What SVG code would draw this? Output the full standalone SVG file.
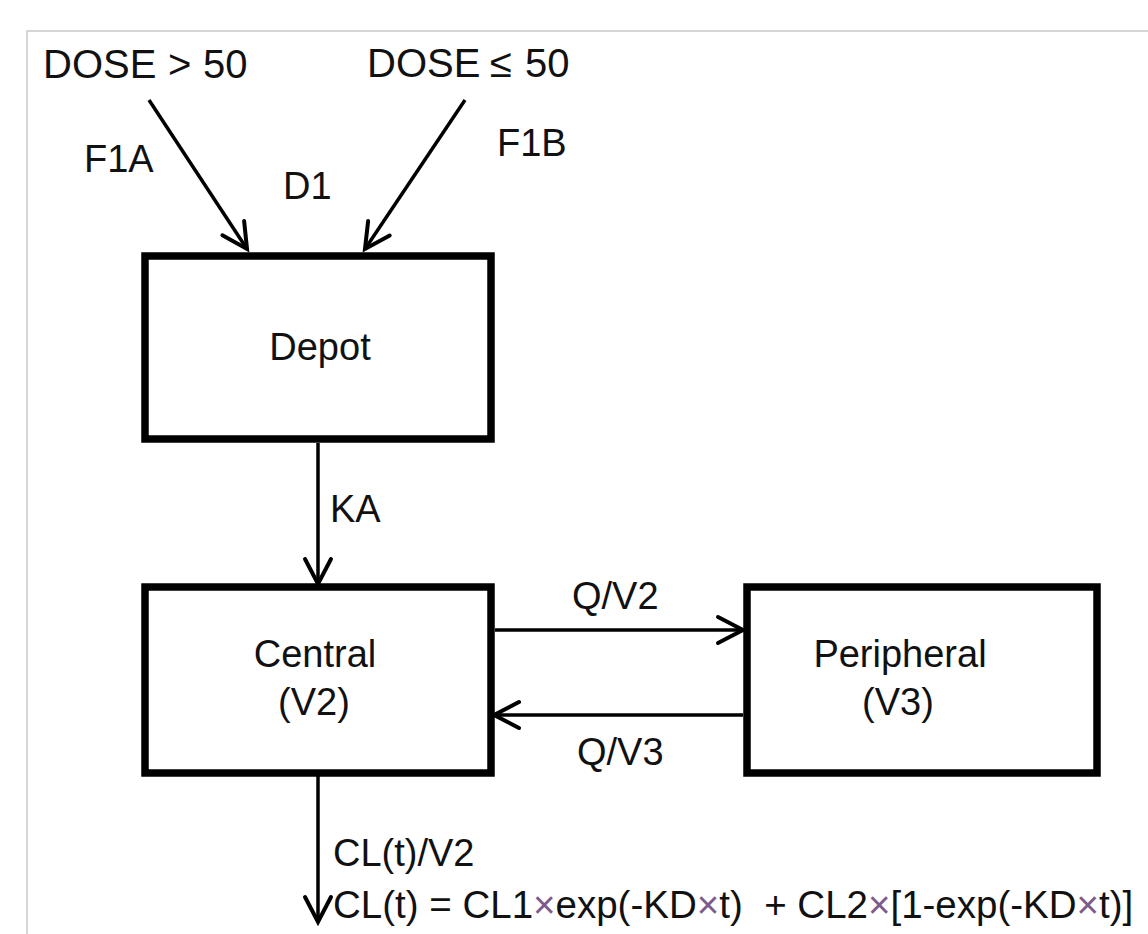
<svg xmlns="http://www.w3.org/2000/svg" width="1148" height="934" viewBox="0 0 1148 934">
<style>
text{font-family:"Liberation Sans",Arial,sans-serif;fill:#111;}
.lbl{font-size:38px;}
.big{font-size:40px;}
.fx{font-size:38.5px;}
.box{fill:#fff;stroke:#000;stroke-width:7.5;}
.con{stroke:#000;stroke-width:3.5;fill:none;}
.x{fill:#7d5a8c;}
</style>
<defs>
<marker id="arr" viewBox="-30 -16 34 32" refX="0" refY="0" markerWidth="34" markerHeight="32" markerUnits="userSpaceOnUse" orient="auto" overflow="visible">
<path d="M-25,-13 L0,0 L-25,13" fill="none" stroke="#000" stroke-width="4" stroke-linecap="round" stroke-linejoin="miter"/>
</marker>
</defs>
<rect x="0" y="0" width="1148" height="934" fill="#fff"/>
<path d="M27,934 V31 H1148" fill="none" stroke="#c8c8c8" stroke-width="1.5"/>
<g id="connectors">
<line class="con" x1="149" y1="100" x2="247" y2="249" marker-end="url(#arr)"/>
<line class="con" x1="465" y1="100" x2="365" y2="249" marker-end="url(#arr)"/>
<line class="con" x1="318" y1="443" x2="318" y2="584" marker-end="url(#arr)"/>
<line class="con" x1="495" y1="630" x2="743" y2="630" marker-end="url(#arr)"/>
<line class="con" x1="743" y1="715" x2="494" y2="715" marker-end="url(#arr)"/>
<line class="con" x1="318" y1="776" x2="318" y2="922" marker-end="url(#arr)"/>
</g>
<g id="labels">
<text class="big" y="78"><tspan x="43">DOSE</tspan><tspan x="168">&gt;</tspan><tspan x="203">50</tspan></text>
<text class="big" y="77"><tspan x="367">DOSE</tspan><tspan x="490">≤</tspan><tspan x="525">50</tspan></text>
<text class="lbl" x="84" y="172">F1A</text>
<text class="lbl" x="283" y="199">D1</text>
<text class="lbl" x="497" y="156">F1B</text>
<text class="lbl" x="330" y="522">KA</text>
<text class="lbl" x="572" y="609">Q/V2</text>
<text class="lbl" x="577" y="765">Q/V3</text>
<text class="lbl" x="333" y="866">CL(t)/V2</text>
<text class="fx" x="333" y="918" xml:space="preserve">CL(t) = CL1<tspan class="x">×</tspan>exp(-KD<tspan class="x">×</tspan>t)  + CL2<tspan class="x">×</tspan>[1-exp(-KD<tspan class="x">×</tspan>t)]</text>
</g>
<g id="depot">
<rect class="box" x="145" y="256" width="346" height="183"/>
<text class="lbl" x="320" y="360" text-anchor="middle" font-size="37">Depot</text>
</g>
<g id="central">
<rect class="box" x="145" y="587" width="346" height="186"/>
<text class="lbl" x="315" y="667" text-anchor="middle">Central</text>
<text class="lbl" x="314" y="715" text-anchor="middle">(V2)</text>
</g>
<g id="peripheral">
<rect class="box" x="747" y="587" width="350" height="186"/>
<text class="lbl" x="900" y="667" text-anchor="middle">Peripheral</text>
<text class="lbl" x="898" y="715" text-anchor="middle">(V3)</text>
</g>
</svg>
